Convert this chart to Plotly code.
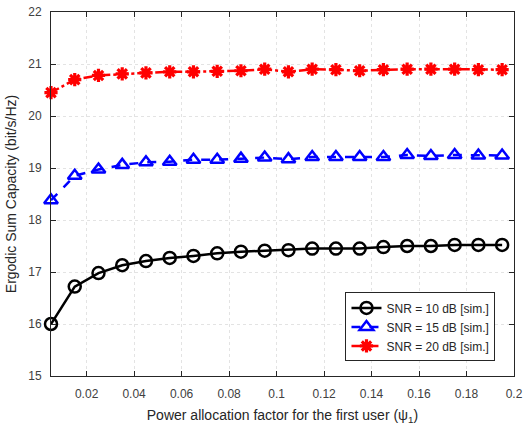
import plotly.graph_objects as go

x_vals = [0.005, 0.015, 0.025, 0.035, 0.045, 0.055, 0.065, 0.075, 0.085, 0.095,
          0.105, 0.115, 0.125, 0.135, 0.145, 0.155, 0.165, 0.175, 0.185, 0.195]
snr10 = [16.00, 16.72, 16.98, 17.13, 17.21, 17.27, 17.31, 17.36, 17.39, 17.41,
         17.42, 17.45, 17.45, 17.45, 17.48, 17.50, 17.50, 17.52, 17.52, 17.52]
snr15 = [18.38, 18.85, 18.97, 19.06, 19.11, 19.12, 19.16, 19.16, 19.18, 19.20,
         19.17, 19.21, 19.21, 19.21, 19.21, 19.25, 19.23, 19.25, 19.24, 19.24]
snr20 = [20.45, 20.70, 20.78, 20.81, 20.83, 20.85, 20.85, 20.86, 20.87, 20.90,
         20.85, 20.90, 20.89, 20.87, 20.89, 20.90, 20.90, 20.90, 20.89, 20.89]
x_ticks = [0.02, 0.04, 0.06, 0.08, 0.1, 0.12, 0.14, 0.16, 0.18, 0.2]
x_tick_labels = ["0.02", "0.04", "0.06", "0.08", "0.1", "0.12", "0.14", "0.16", "0.18", "0.2"]
y_ticks = [15, 16, 17, 18, 19, 20, 21, 22]
names = ["SNR = 10 dB [sim.]", "SNR = 15 dB [sim.]", "SNR = 20 dB [sim.]"]

fig = go.Figure()
fig.add_trace(go.Scatter(
    x=x_vals, y=snr10, name=names[0], mode="lines+markers", cliponaxis=False,
    line=dict(color="black", width=2.5, dash="solid"),
    marker=dict(symbol="circle-open", size=12, color="black", line=dict(width=2.5)),
))
fig.add_trace(go.Scatter(
    x=x_vals, y=snr15, name=names[1], mode="lines+markers", cliponaxis=False,
    line=dict(color="#0000ff", width=2.5, dash="dash"),
    marker=dict(symbol="triangle-up-open", size=12, color="#0000ff", line=dict(width=2.5)),
))
fig.add_trace(go.Scatter(
    x=x_vals, y=snr20, name=names[2], mode="lines+markers", cliponaxis=False,
    line=dict(color="#ff0000", width=2.5, dash="dashdot"),
    marker=dict(symbol="asterisk-open", size=11, color="#ff0000", line=dict(width=3.2, color="#ff0000")),
))

axis_common = dict(
    showgrid=True, gridcolor="#e3e3e3", gridwidth=1, griddash="dot",
    showline=True, linecolor="#262626", linewidth=1, mirror="ticks",
    ticks="inside", ticklen=5, tickcolor="#262626",
    tickfont=dict(family="Liberation Sans, Arial", size=12, color="#404040"),
    zeroline=False, automargin=False,
)

fig.update_layout(
    width=525, height=426,
    margin=dict(l=51, r=11, t=12, b=50),
    paper_bgcolor="white", plot_bgcolor="white",
    font=dict(family="Liberation Sans, Arial", color="#262626"),
    xaxis=dict(range=[0.005, 0.2], tickvals=x_ticks, ticktext=x_tick_labels,
               ticklabelstandoff=7,
               title=dict(text="Power allocation factor for the first user (\u03c8<sub>1</sub>)",
                          font=dict(size=14, color="#262626"), standoff=9),
               **axis_common),
    yaxis=dict(range=[15, 22], tickvals=y_ticks, ticklabelstandoff=6,
               title=dict(text="Ergodic Sum Capacity (bit/s/Hz)",
                          font=dict(size=14, color="#262626"), standoff=8),
               **axis_common),
    legend=dict(x=0.96, y=0.04, xanchor="right", yanchor="bottom",
                bgcolor="white", bordercolor="#262626", borderwidth=1,
                font=dict(family="Liberation Sans, Arial", size=12, color="#262626"),
                tracegroupgap=0, itemwidth=30),
    showlegend=True,
)

fig.write_html("out.html", config={"displayModeBar": False},
               post_script="document.body.style.margin='0';document.body.style.overflow='hidden';")
